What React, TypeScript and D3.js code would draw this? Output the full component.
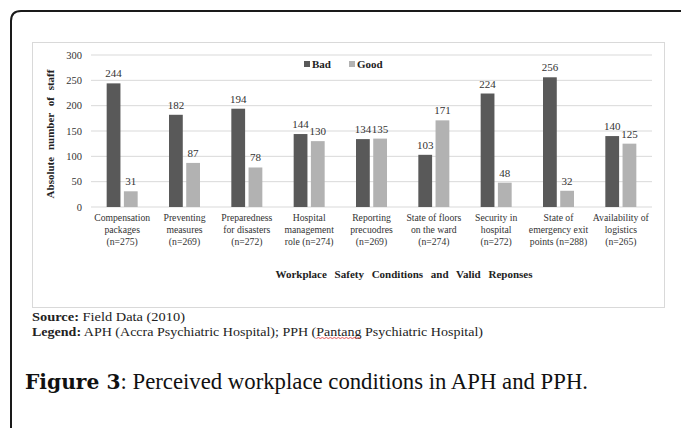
import React, { useLayoutEffect, useRef, useState } from "react";
import * as d3 from "d3";

const categories: string[][] = [
  ["Compensation", "packages", "(n=275)"],
  ["Preventing", "measures", "(n=269)"],
  ["Preparedness", "for disasters", "(n=272)"],
  ["Hospital", "management", "role (n=274)"],
  ["Reporting", "precuodres", "(n=269)"],
  ["State of floors", "on the ward", "(n=274)"],
  ["Security in", "hospital", "(n=272)"],
  ["State of", "emergency exit", "points (n=288)"],
  ["Availability of", "logistics", "(n=265)"],
];
const seriesNames = ["Bad", "Good"];
const badValues = [244, 182, 194, 144, 134, 103, 224, 256, 140];
const goodValues = [31, 87, 78, 130, 135, 171, 48, 32, 125];
const yTicks = [0, 50, 100, 150, 200, 250, 300];
const colors: Record<string, string> = { Bad: "#595959", Good: "#b2b2b2" };

const W = 681;
const H = 428;
const serif = "'Liberation Serif', 'Times New Roman', serif";

export default function App() {
  const pantangRef = useRef<SVGTSpanElement>(null);
  const [squiggle, setSquiggle] = useState<{ x: number; w: number } | null>(null);

  useLayoutEffect(() => {
    const el = pantangRef.current;
    if (el && (el as any).getBBox) {
      const b = (el as any).getBBox();
      setSquiggle({ x: b.x, w: b.width });
    }
  }, []);

  const x0 = d3
    .scaleBand<number>()
    .domain(categories.map((_, i) => i))
    .range([91, 652])
    .paddingInner(0)
    .paddingOuter(0);
  const y = d3.scaleLinear().domain([0, 300]).range([207, 55]);
  const half = 15.5;
  const x1 = d3.scaleBand<string>().domain(seriesNames).range([-half, half]).paddingInner(0.2);

  const data = categories.map((c, i) => ({
    idx: i,
    vals: [
      { s: "Bad", v: badValues[i] },
      { s: "Good", v: goodValues[i] },
    ],
  }));

  let wavy = "";
  if (squiggle) {
    const yb = 338.5;
    const step = 2;
    let p = `M${squiggle.x},${yb}`;
    let up = true;
    for (let xx = squiggle.x + step; xx <= squiggle.x + squiggle.w; xx += step) {
      p += ` L${xx},${yb + (up ? -1 : 0)}`;
      up = !up;
    }
    wavy = p;
  }

  return (
    <svg
      width={W}
      height={H}
      style={{ position: "absolute", left: 0, top: 0, background: "#fff" }}
      fontFamily={serif}
    >
      {/* outer frame */}
      <path d={`M11,${H + 5} L11,21 Q11,11 21,11 L${W + 5},11`} fill="none" stroke="#1a1a1a" strokeWidth={2} />
      {/* chart box */}
      <rect x={32.5} y={42.5} width={632} height={265} fill="#fff" stroke="#d9d9d9" strokeWidth={1} />

      {/* gridlines */}
      {yTicks.map((t) => (
        <g key={t}>
          <line x1={91} x2={652} y1={y(t)} y2={y(t)} stroke="#d9d9d9" strokeWidth={1} />
          <text x={82} y={y(t) + 3.5} textAnchor="end" fontSize={10.5} fill="#333">
            {t}
          </text>
        </g>
      ))}

      {/* bars */}
      {data.map((d) => {
        const cx = (x0(d.idx) as number) + x0.bandwidth() / 2;
        return (
          <g key={d.idx}>
            {d.vals.map((b) => {
              const bx = cx + (x1(b.s) as number);
              return (
                <g key={b.s}>
                  <rect x={bx} y={y(b.v)} width={x1.bandwidth()} height={y(0) - y(b.v)} fill={colors[b.s]} />
                  <text
                    x={bx + x1.bandwidth() / 2}
                    y={y(b.v) - 6}
                    textAnchor="middle"
                    fontSize={11}
                    fill="#333"
                  >
                    {b.v}
                  </text>
                </g>
              );
            })}
            {categories[d.idx].map((line, li) => (
              <text key={li} x={cx} y={221 + li * 12} textAnchor="middle" fontSize={9.7} fill="#333">
                {line}
              </text>
            ))}
          </g>
        );
      })}

      {/* legend */}
      <rect x={304} y={61} width={6} height={6} fill={colors.Bad} />
      <text x={312} y={67.5} fontSize={11} fontWeight="bold" fill="#222">
        Bad
      </text>
      <rect x={349} y={61} width={6} height={6} fill={colors.Good} />
      <text x={357} y={67.5} fontSize={11} fontWeight="bold" fill="#222">
        Good
      </text>

      {/* axis titles */}
      <text
        transform={`translate(54,134) rotate(-90)`}
        textAnchor="middle"
        fontSize={11}
        fontWeight="bold"
        fill="#222"
        style={{ wordSpacing: "4px" }}
      >
        Absolute number of staff
      </text>
      <text x={404} y={278} textAnchor="middle" fontSize={11} fontWeight="bold" fill="#222" style={{ wordSpacing: "5px" }}>
        Workplace Safety Conditions and Valid Reponses
      </text>

      {/* source / legend notes */}
      <text x={32} y={321} fontSize={13.5} fill="#222" textLength={153} lengthAdjust="spacingAndGlyphs">
        <tspan fontWeight="bold">Source:</tspan> Field Data (2010)
      </text>
      <text x={32} y={335.5} fontSize={13.5} fill="#222" textLength={451} lengthAdjust="spacingAndGlyphs">
        <tspan fontWeight="bold">Legend:</tspan> APH (Accra Psychiatric Hospital); PPH (<tspan ref={pantangRef}>Pantang</tspan> Psychiatric Hospital)
      </text>
      {wavy && <path d={wavy} fill="none" stroke="#e03030" strokeWidth={0.8} />}

      {/* caption */}
      <text x={25} y={389} fontSize={22.5} fill="#111" textLength={563} lengthAdjust="spacingAndGlyphs">
        <tspan fontFamily="'DejaVu Serif', serif" fontWeight="bold" fontSize={20}>
          Figure 3
        </tspan>
        <tspan>: Perceived workplace conditions in APH and PPH.</tspan>
      </text>
    </svg>
  );
}
